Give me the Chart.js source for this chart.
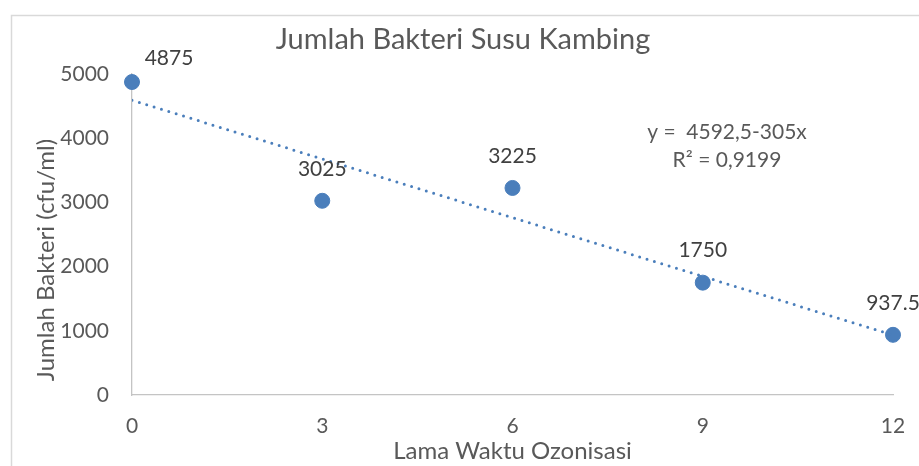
<!DOCTYPE html>
<html>
<head>
<meta charset="utf-8">
<script src="https://cdn.jsdelivr.net/npm/chart.js@4/dist/chart.umd.min.js"></script>
<style>
  html, body { margin: 0; padding: 0; background: #fff; }
  #wrap { width: 919px; height: 466px; }
</style>
</head>
<body>
<div id="wrap"><canvas id="chart" width="919" height="466"></canvas></div>
<script>
// data
const waktu = [0, 3, 6, 9, 12];
const jumlahBakteri = [4875, 3025, 3225, 1750, 937.5];
const labelBakteri = ['4875', '3025', '3225', '1750', '937.5'];
const xTicks = [0, 3, 6, 9, 12];
const yTicks = [0, 1000, 2000, 3000, 4000, 5000];

// regresi linear untuk garis tren
function regresi(xs, ys) {
    const n = xs.length;
    const mx = xs.reduce((a, b) => a + b, 0) / n;
    const my = ys.reduce((a, b) => a + b, 0) / n;
    let sxy = 0, sxx = 0, syy = 0;
    for (let i = 0; i < n; i++) {
        sxy += (xs[i] - mx) * (ys[i] - my);
        sxx += (xs[i] - mx) ** 2;
        syy += (ys[i] - my) ** 2;
    }
    const b = sxy / sxx;
    return { a: my - b * mx, b: b, r2: (sxy * sxy) / (sxx * syy) };
}
const tren = regresi(waktu, jumlahBakteri);
const trenX = [waktu[0], waktu[waktu.length - 1]];

const biru = '#4a7ebb';
const abu = '#595959';
const FONT = 'Lato, Carlito, Calibri, sans-serif';

// bingkai, judul sumbu Y, label data dan persamaan
const dekorasi = {
    id: 'dekorasi',
    beforeDraw(chart) {
        const ctx = chart.ctx;
        ctx.save();
        ctx.strokeStyle = '#d9d9d9';
        ctx.lineWidth = 1.5;
        ctx.strokeRect(11.5, 15.5, 1000, 1000);
        // judul sumbu Y
        ctx.translate(46, 260);
        ctx.rotate(-Math.PI / 2);
        ctx.font = '24px ' + FONT;
        ctx.fillStyle = abu;
        ctx.textAlign = 'center';
        ctx.textBaseline = 'middle';
        ctx.fillText('Jumlah Bakteri (cfu/ml)', 0, 0);
        ctx.restore();
    },
    afterDatasetsDraw(chart) {
        const ctx = chart.ctx;
        const meta = chart.getDatasetMeta(1);
        ctx.save();
        ctx.font = '21px ' + FONT;
        ctx.fillStyle = '#404040';
        ctx.textAlign = 'center';
        ctx.textBaseline = 'middle';
        meta.data.forEach((pt, i) => {
            const dx = i === 0 ? 37 : 0;
            const dy = i === 0 ? -24 : -32;
            ctx.fillText(labelBakteri[i], pt.x + dx, pt.y + dy);
        });
        ctx.fillStyle = abu;
        ctx.fillText('y =  ' + tren.a.toFixed(1).replace('.', ',') + '-' + Math.abs(tren.b) + 'x', 727, 132);
        ctx.fillText('R\u00b2 = ' + tren.r2.toFixed(4).replace('.', ','), 727, 160);
        ctx.restore();
    }
};

new Chart(document.getElementById('chart'), {
    type: 'scatter',
    data: {
        datasets: [
            {
                type: 'line',
                data: trenX.map(x => ({ x: x, y: tren.a + tren.b * x })),
                borderColor: biru,
                borderWidth: 3,
                borderDash: [0, 7.7],
                borderCapStyle: 'round',
                pointRadius: 0,
                fill: false
            },
            {
                data: waktu.map((x, i) => ({ x: x, y: jumlahBakteri[i] })),
                backgroundColor: biru,
                borderColor: biru,
                pointRadius: 7.5,
                pointHoverRadius: 7.5,
                clip: false
            }
        ]
    },
    options: {
        responsive: false,
        animation: false,
        layout: { padding: { top: 10, left: 33, right: 26, bottom: 0 } },
        plugins: {
            legend: { display: false },
            tooltip: { enabled: false },
            title: {
                display: true,
                text: 'Jumlah Bakteri Susu Kambing',
                color: abu,
                font: { family: FONT, size: 29, weight: 'normal' },
                padding: { top: 12.6, bottom: 16.6 }
            }
        },
        scales: {
            x: {
                type: 'linear',
                min: 0,
                max: 12,
                afterBuildTicks: s => { s.ticks = xTicks.map(v => ({ value: v })); },
                afterFit: s => { s.height = 71; s.paddingLeft = 0; s.paddingRight = 0; },
                grid: { display: false, drawTicks: false },
                border: { display: true, color: '#c4c4c4', width: 1.3 },
                ticks: { color: abu, padding: 19, font: { family: FONT, size: 21 }, callback: v => String(v) },
                title: {
                    display: true,
                    text: 'Lama Waktu Ozonisasi',
                    color: abu,
                    font: { family: FONT, size: 24 },
                    padding: 0
                }
            },
            y: {
                min: 0,
                max: 5000,
                afterBuildTicks: s => { s.ticks = yTicks.map(v => ({ value: v })); },
                afterFit: s => { s.width = 99; },
                grid: { display: false, drawTicks: false },
                border: { display: true, color: '#c4c4c4', width: 1.3 },
                ticks: { color: abu, padding: 23, font: { family: FONT, size: 21 }, callback: v => String(v) }
            }
        }
    },
    plugins: [dekorasi]
});
</script>
</body>
</html>
